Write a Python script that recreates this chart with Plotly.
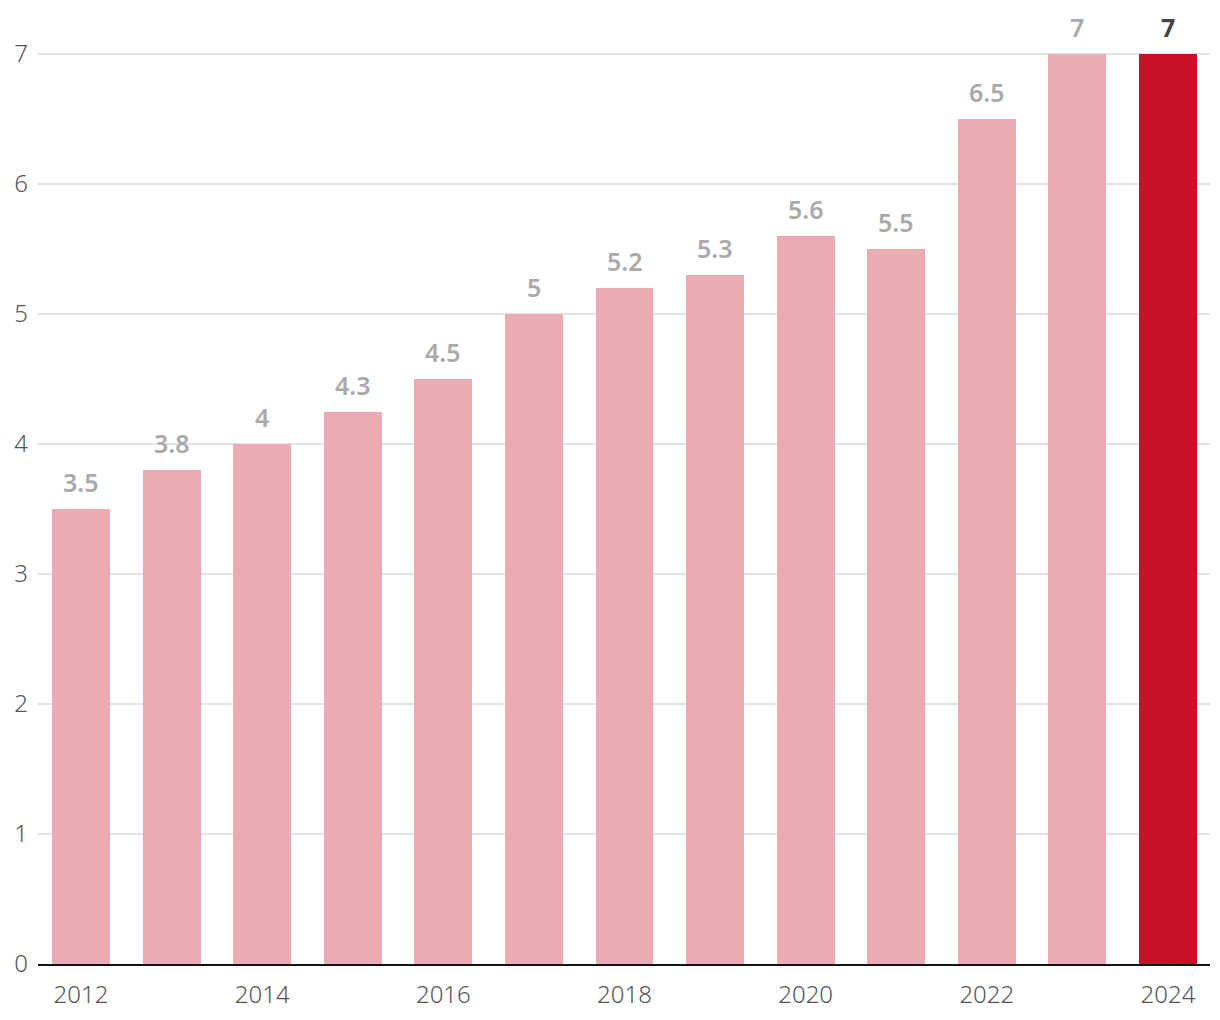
import plotly.graph_objects as go

years = [2012, 2013, 2014, 2015, 2016, 2017, 2018, 2019, 2020, 2021, 2022, 2023, 2024]
values = [3.5, 3.8, 4.0, 4.25, 4.5, 5.0, 5.2, 5.3, 5.6, 5.5, 6.5, 7.0, 7.0]
labels = ["3.5", "3.8", "4", "4.3", "4.5", "5", "5.2", "5.3", "5.6", "5.5", "6.5", "7", "7"]
x_ticks = [2012, 2014, 2016, 2018, 2020, 2022, 2024]
y_ticks = [0, 1, 2, 3, 4, 5, 6, 7]

light = "#EBABB2"
dark = "#CB1128"
colors = [light] * (len(years) - 1) + [dark]

fig = go.Figure()
fig.add_trace(go.Bar(
    x=years, y=values, width=0.64,
    marker=dict(color=colors, line=dict(width=0)),
    hoverinfo="skip",
))

for i, (x, y, t) in enumerate(zip(years, values, labels)):
    last = i == len(years) - 1
    fig.add_annotation(
        x=x, y=y, text=t, showarrow=False, yanchor="bottom", yshift=8,
        font=dict(family="Noto Sans", size=25,
                  color="#444444" if last else "#AAAAAA",
                  weight=700 if last else 600),
    )

fig.update_layout(
    width=1212, height=1012,
    margin=dict(l=30, r=10, t=1, b=56, autoexpand=False),
    paper_bgcolor="white", plot_bgcolor="white",
    showlegend=False,
    bargap=0,
    font=dict(family="Noto Sans", color="#555555", size=24),
)
fig.update_xaxes(
    range=[2012 - 0.475, 2024 + 0.464],
    tickvals=x_ticks, ticktext=[str(v) for v in x_ticks],
    showgrid=False, zeroline=False,
    showline=True, linecolor="#111111", linewidth=2,
    ticks="", ticklabelstandoff=8, automargin=False,
    tickfont=dict(size=24, color="#555555", weight=300),
)
fig.update_yaxes(
    range=[0, 955 / 130],
    tickvals=y_ticks,
    showgrid=True, gridcolor="#E3E3E3", gridwidth=1.5,
    zeroline=False, showline=False,
    ticks="", ticklabelstandoff=9, automargin=False,
    tickfont=dict(size=24, color="#555555", weight=300),
)

fig.write_html("out.html")
